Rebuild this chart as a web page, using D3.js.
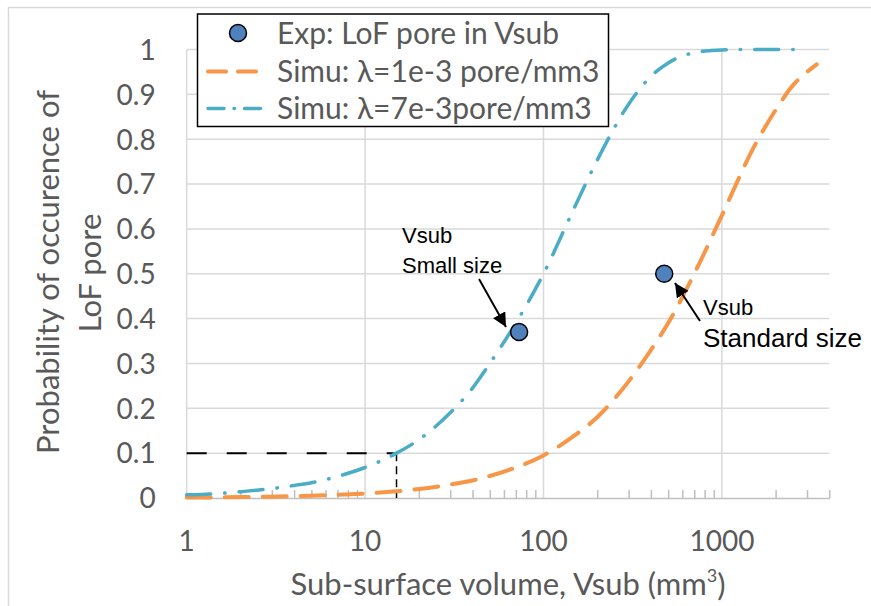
<!DOCTYPE html>
<html><head><meta charset="utf-8">
<script src="https://cdn.jsdelivr.net/npm/d3@7"></script>
<style>
body{margin:0;background:#fff;}
</style></head>
<body><svg id="c" width="871" height="606"></svg>
<script>
// ---- data ----
const volumeTicks = [1, 10, 100, 1000];
const probTicks = [0,0.1,0.2,0.3,0.4,0.5,0.6,0.7,0.8,0.9,1];
const seriesNames = ["Exp: LoF pore in Vsub", "Simu: \u03bb=1e-3 pore/mm3", "Simu: \u03bb=7e-3pore/mm3"];
const expVolume = [73, 475];
const expProb = [0.37, 0.50];
const simuVolume = [1, 1.5, 2, 3, 4, 5, 7, 10, 15, 20, 30, 40, 50, 70, 100, 150, 200, 300, 400, 500, 700, 1000, 1500, 2000, 2500, 3000, 3400];
const simu1Prob = [0.001, 0.0015, 0.002, 0.003, 0.004, 0.005, 0.007, 0.01, 0.015, 0.02, 0.03, 0.039, 0.049, 0.068, 0.095, 0.14, 0.18, 0.26, 0.33, 0.39, 0.50, 0.63, 0.78, 0.865, 0.92, 0.95, 0.967];
const simu7Prob = [0.007, 0.010, 0.014, 0.021, 0.028, 0.034, 0.048, 0.068, 0.10, 0.13, 0.19, 0.245, 0.30, 0.39, 0.50, 0.65, 0.753, 0.878, 0.94, 0.97, 0.993, 0.999, 1, 1, 1, 1, null];
const guideVolume = 15, guideProb = 0.1;

const svg = d3.select("#c");
const FONT = "Lato, 'Open Sans', sans-serif";
const L = 186.7, R = 829.3, T = 49.5, B = 498;
const x = d3.scaleLog().domain([1, 4000]).range([L, R]);
const y = d3.scaleLinear().domain([0, 1]).range([B, T]);
const grey = "#595959";

// outer chart border
svg.append("rect").attr("x",8.5).attr("y",7.5).attr("width",900).attr("height",700)
  .attr("fill","none").attr("stroke","#d9d9d9").attr("stroke-width",1.5);

// gridlines
const g = svg.append("g");
g.selectAll(".hg").data(probTicks.filter(d=>d>0)).join("line")
  .attr("x1",L).attr("x2",R).attr("y1",d=>y(d)).attr("y2",d=>y(d))
  .attr("stroke","#d9d9d9").attr("stroke-width",1.5);
g.selectAll(".vg").data(volumeTicks).join("line")
  .attr("x1",d=>x(d)).attr("x2",d=>x(d)).attr("y1",T).attr("y2",B)
  .attr("stroke","#d9d9d9").attr("stroke-width",1.5);

// x axis (log, minor ticks inside)
const minor = x.ticks().filter(d => volumeTicks.indexOf(d) < 0);
const xAxis = d3.axisBottom(x).tickValues(minor).tickSizeInner(-8).tickSizeOuter(0).tickFormat("");
const xa = svg.append("g").attr("transform",`translate(0,${B})`).call(xAxis);
xa.select(".domain").attr("stroke","#bfbfbf").attr("stroke-width",1.5);
xa.selectAll(".tick line").attr("stroke","#bfbfbf").attr("stroke-width",1.5);
svg.selectAll(".xl").data(volumeTicks).join("text")
  .attr("x",d=>x(d)).attr("y",541).attr("dy","0.35em").attr("text-anchor","middle")
  .attr("font-family",FONT).attr("fill",grey).attr("font-size",28).text(d=>d);

// y axis labels
const yAxis = d3.axisLeft(y).tickValues(probTicks).tickSize(0).tickFormat(d3.format("~g"));
const ya = svg.append("g").attr("transform",`translate(${L-31},0)`).call(yAxis);
ya.select(".domain").remove();
ya.selectAll("text").attr("fill",grey).attr("font-size",28).attr("font-family",FONT).attr("dy","0.35em").attr("x",0);

// axis titles
svg.append("text").attr("transform","translate(48,272) rotate(-90)").attr("text-anchor","middle")
  .attr("font-family",FONT).attr("dy","0.35em").attr("fill",grey).attr("font-size",31).text("Probability of occurence of");
svg.append("text").attr("transform","translate(90,273) rotate(-90)").attr("text-anchor","middle")
  .attr("font-family",FONT).attr("dy","0.35em").attr("fill",grey).attr("font-size",31).text("LoF pore");
const xt = svg.append("text").attr("x",508).attr("y",584).attr("dy","0.35em").attr("text-anchor","middle")
  .attr("font-family",FONT).attr("fill",grey).attr("font-size",31);
xt.append("tspan").text("Sub-surface volume, Vsub (mm");
xt.append("tspan").attr("font-size",18).attr("dy","-0.7em").text("3");
xt.append("tspan").attr("dy","0.45em").text(")");

// guide dashed lines
svg.append("line").attr("x1",x(1)).attr("x2",x(guideVolume)).attr("y1",y(guideProb)).attr("y2",y(guideProb))
  .attr("stroke","#000").attr("stroke-width",2).attr("stroke-dasharray","20,20");
svg.append("line").attr("x1",x(guideVolume)).attr("x2",x(guideVolume)).attr("y1",y(guideProb)).attr("y2",y(0))
  .attr("stroke","#000").attr("stroke-width",1.5).attr("stroke-dasharray","8,5");

// curves
const line = d3.line().defined(d=>d[1]!=null).x(d=>x(d[0])).y(d=>y(d[1])).curve(d3.curveMonotoneX);
const orange = "#F79646", blue = "#4BACC6";
svg.append("path").datum(simuVolume.map((v,i)=>[v,simu1Prob[i]])).attr("d",line)
  .attr("fill","none").attr("stroke",orange).attr("stroke-width",4).attr("stroke-linecap","round").attr("stroke-dasharray","24,14");
svg.append("path").datum(simuVolume.map((v,i)=>[v,simu7Prob[i]])).attr("d",line)
  .attr("fill","none").attr("stroke",blue).attr("stroke-width",3.5).attr("stroke-linecap","round").attr("stroke-dasharray","24,14,0.5,14");

// experimental points
svg.selectAll(".pt").data(expVolume.map((v,i)=>[v,expProb[i]])).join("circle")
  .attr("cx",d=>x(d[0])).attr("cy",d=>y(d[1])).attr("r",8.5)
  .attr("fill","#4F81BD").attr("stroke","#000").attr("stroke-width",1.5);

// annotations
const defs = svg.append("defs");
defs.append("marker").attr("id","ah").attr("viewBox","0 0 10 10").attr("refX",10).attr("refY",5)
  .attr("markerWidth",14).attr("markerHeight",14).attr("markerUnits","userSpaceOnUse").attr("orient","auto")
  .append("path").attr("d","M0,0 L10,5 L0,10 z").attr("fill","#000");
svg.append("line").attr("x1",479).attr("y1",279).attr("x2",506).attr("y2",327)
  .attr("stroke","#000").attr("stroke-width",2).attr("marker-end","url(#ah)");
svg.append("line").attr("x1",700).attr("y1",321).attr("x2",675).attr("y2",283)
  .attr("stroke","#000").attr("stroke-width",2).attr("marker-end","url(#ah)");
const af = "'Liberation Sans', Arial, sans-serif";
svg.append("text").attr("x",402).attr("y",243).attr("font-family",af).attr("font-size",22).text("Vsub");
svg.append("text").attr("x",402).attr("y",273).attr("font-family",af).attr("font-size",22).text("Small size");
svg.append("text").attr("x",703).attr("y",315).attr("font-family",af).attr("font-size",22).text("Vsub");
svg.append("text").attr("x",703).attr("y",347).attr("font-family",af).attr("font-size",26).text("Standard size");

// legend
const lg = svg.append("g");
lg.append("rect").attr("x",197.5).attr("y",14).attr("width",411).attr("height",112.5)
  .attr("fill","#fff").attr("stroke","#000").attr("stroke-width",1.5);
const rows = [33, 71.5, 108.5];
lg.append("circle").attr("cx",238).attr("cy",rows[0]).attr("r",8.5).attr("fill","#4F81BD").attr("stroke","#000").attr("stroke-width",1.5);
lg.append("line").attr("x1",208).attr("x2",268).attr("y1",rows[1]).attr("y2",rows[1])
  .attr("stroke",orange).attr("stroke-width",4).attr("stroke-linecap","round").attr("stroke-dasharray","18,12");
lg.append("line").attr("x1",208).attr("x2",268).attr("y1",rows[2]).attr("y2",rows[2])
  .attr("stroke",blue).attr("stroke-width",3.5).attr("stroke-linecap","round").attr("stroke-dasharray","16,10,0.5,10");
lg.selectAll(".lt").data(seriesNames).join("text")
  .attr("x",277).attr("y",(d,i)=>rows[i]).attr("dy","0.35em").attr("font-family",FONT).attr("fill",grey).attr("font-size",30).text(d=>d);
</script></body></html>
